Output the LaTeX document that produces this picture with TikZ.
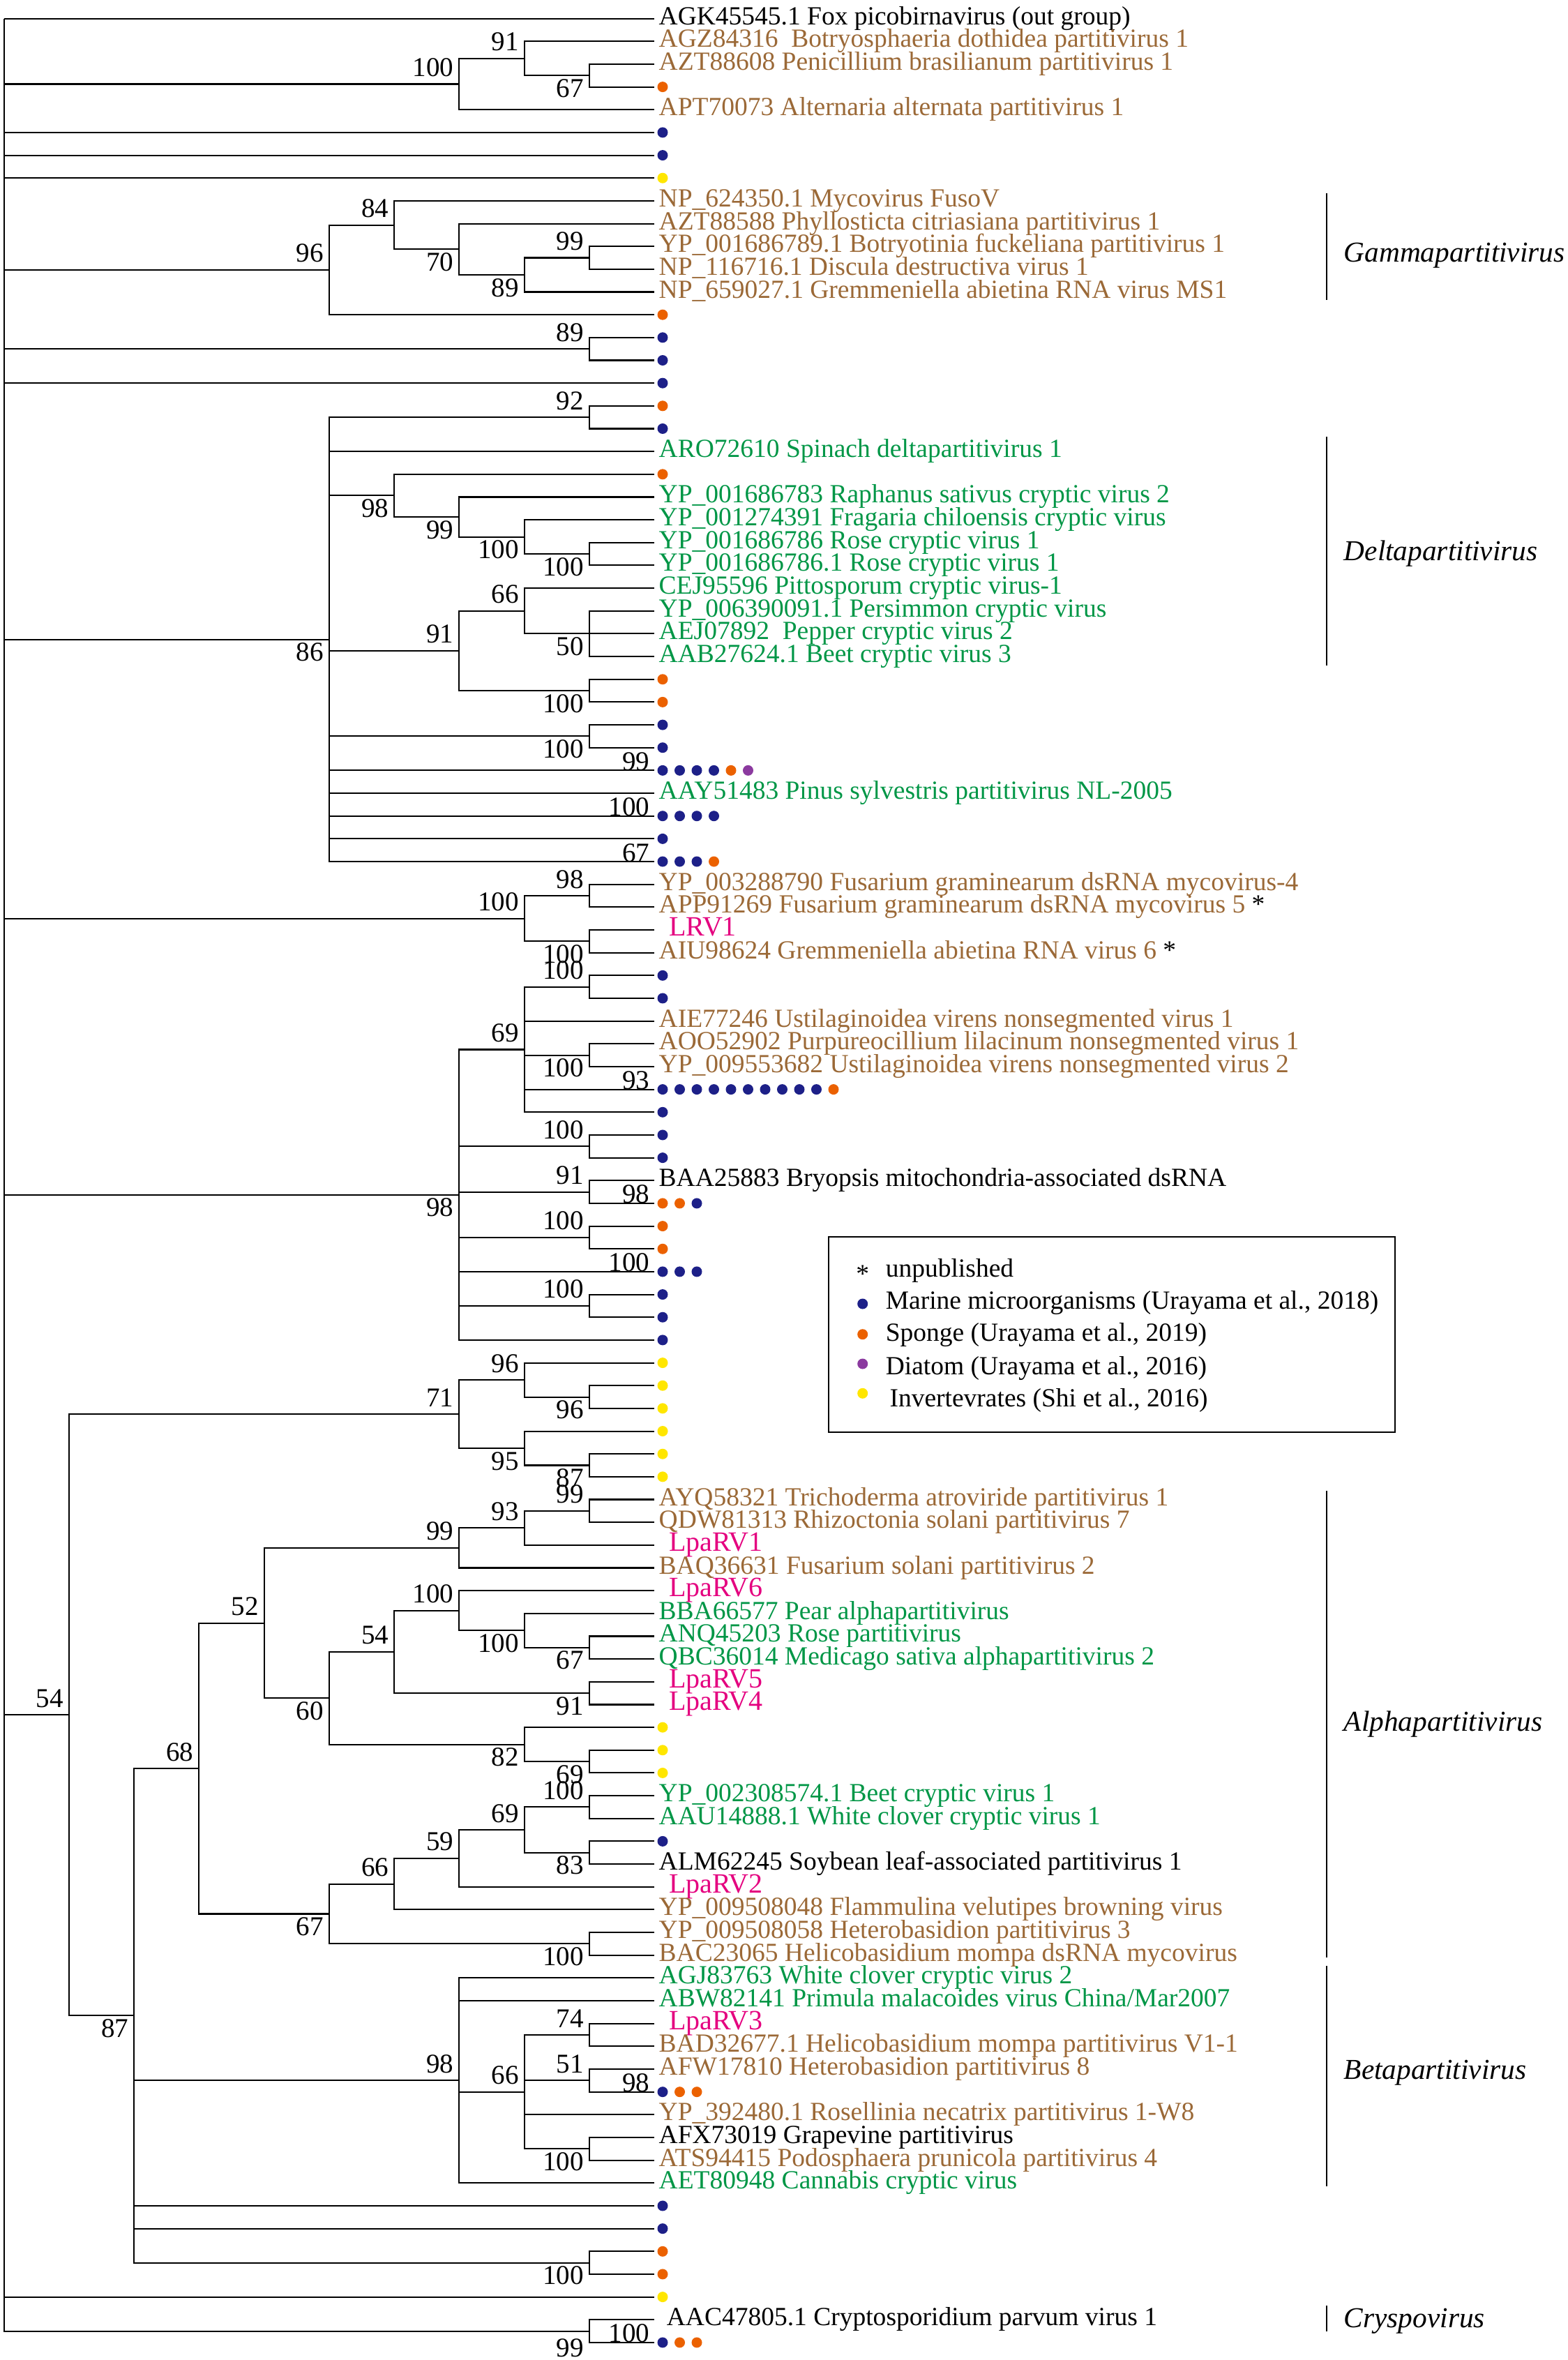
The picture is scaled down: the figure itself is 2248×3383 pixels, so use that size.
\documentclass[tikz,border=0pt]{standalone}
\usepackage{fontspec}
\setmainfont{Liberation Serif}
\definecolor{bnavy}{HTML}{1D2088}
\definecolor{borange}{HTML}{EB6100}
\definecolor{bpurple}{HTML}{8B3A9F}
\definecolor{byellow}{HTML}{FFE600}
\definecolor{tbrown}{HTML}{9B6937}
\definecolor{tgreen}{HTML}{009646}
\definecolor{tmag}{HTML}{E4007F}
\newcommand\dotrow[2]{\foreach \cc [count=\ii from 0] in {#2} {\fill[\cc] ({950+24.5*\ii},#1) circle[radius=1.875pt];}}
\tikzset{
 br/.style={line width=0.52pt},
 lab/.style={anchor=base west, inner sep=0pt, outer sep=0pt, font=\fontsize{9.375pt}{10pt}\selectfont, xshift=1.65pt, yshift=-2.125pt},
 bw/.style={lab, text=black},
 bn/.style={lab, text=tbrown},
 gn/.style={lab, text=tgreen},
 mg/.style={lab, text=tmag, font=\fontsize{10pt}{11pt}\selectfont, xshift=3.6pt},
 bs/.style={inner sep=0pt, outer sep=0pt, font=\fontsize{9.75pt}{10pt}\selectfont, anchor=base east, xshift=-2pt},
 bsa/.style={bs, yshift=2.75pt},
 bsb/.style={bs, yshift=-7.75pt},
 bsc/.style={inner sep=0pt, outer sep=0pt, font=\fontsize{9.75pt}{10pt}\selectfont, anchor=base east},
 clade/.style={anchor=base west, inner sep=0pt, font=\fontsize{10.33pt}{11pt}\selectfont\itshape},
 legtxt/.style={anchor=base west, inner sep=0pt, font=\fontsize{9.375pt}{10pt}\selectfont},
 bar/.style={line width=0.45pt},
 legbox/.style={line width=0.4pt},
}
\begin{document}
\begin{tikzpicture}
% ---------- page frame, legend, clade bars (pixel units) ----------
\begin{scope}[x=0.25pt,y=-0.25pt]
\useasboundingbox (0,0) rectangle (2248,3383);
\draw[legbox] (1188,1773) rectangle (2000,2053);
\node[legtxt, anchor=base] (ls0) at (1236.7,1838) {*};
\fill[bnavy] (1236.7,1869) circle[radius=1.875pt];
\fill[borange] (1236.7,1912.7) circle[radius=1.875pt];
\fill[bpurple] (1236.7,1955) circle[radius=1.875pt];
\fill[byellow] (1236.7,1997.3) circle[radius=1.875pt];
\node[legtxt] (lt0) at (1269,1830.7) {unpublished};
\node[legtxt] (lt1) at (1269,1876.7) {Marine microorganisms (Urayama et al., 2018)};
\node[legtxt] (lt2) at (1269,1922.7) {Sponge (Urayama et al., 2019)};
\node[legtxt] (lt3) at (1269,1970) {Diatom (Urayama et al., 2016)};
\node[legtxt] (lt4) at (1274.7,2016) {Invertevrates (Shi et al., 2016)};
\draw[bar] (1901.7,276.7) -- (1901.7,430);
\draw[bar] (1901.7,626) -- (1901.7,954);
\draw[bar] (1901.7,2137) -- (1901.7,2806);
\draw[bar] (1901.7,2818) -- (1901.7,3134);
\draw[bar] (1901.7,3305) -- (1901.7,3342);
\node[clade] (cg) at (1926,375) {Gammapartitivirus};
\node[clade] (cd) at (1926,803) {Deltapartitivirus};
\node[clade] (ca) at (1926,2481) {Alphapartitivirus};
\node[clade] (cb) at (1926,2980) {Betapartitivirus};
\node[clade] (cc) at (1926,3336) {Cryspovirus};
\end{scope}
% ---------- tree (x in pixels, y in rows) ----------
\begin{scope}[x=0.25pt,y=-8.165pt,yshift=-6.65pt]
\foreach \r in {0,...,102} \coordinate (t\r) at (938.1,\r);
\coordinate (root) at (5.6,0);
\coordinate (A) at (658.35,2.875);
\coordinate (B) at (751.6,1.75);
\coordinate (C) at (844.85,2.5);
\coordinate (D) at (471.85,11.03125);
\coordinate (E) at (565.1,9.0625);
\coordinate (F) at (658.35,10.125);
\coordinate (G) at (751.6,11.25);
\coordinate (H) at (844.85,10.5);
\coordinate (I) at (844.85,14.5);
\coordinate (J) at (471.85,27.25);
\coordinate (K) at (844.85,17.5);
\coordinate (L) at (565.1,20.9375);
\coordinate (M) at (658.35,21.875);
\coordinate (N) at (751.6,22.75);
\coordinate (O) at (844.85,23.5);
\coordinate (P) at (658.35,27.75);
\coordinate (Q) at (751.6,26);
\coordinate (Qa) at (844.85,27);
\coordinate (S) at (844.85,29.5);
\coordinate (T) at (844.85,31.5);
\coordinate (U) at (751.6,39.5);
\coordinate (V) at (844.85,38.5);
\coordinate (W) at (844.85,40.5);
\coordinate (X) at (658.35,51.625);
\coordinate (Y) at (751.6,45.25);
\coordinate (Ya) at (844.85,42.5);
\coordinate (Yb) at (844.85,45.5);
\coordinate (Z1) at (844.85,49.5);
\coordinate (Z2) at (844.85,51.5);
\coordinate (Z3) at (844.85,53.5);
\coordinate (Z4) at (844.85,56.5);
\coordinate (AA) at (98.85,74.451);
\coordinate (AB) at (658.35,61.25);
\coordinate (AC) at (751.6,59.75);
\coordinate (ACa) at (844.85,60.5);
\coordinate (AD) at (751.6,62.75);
\coordinate (ADa) at (844.85,63.5);
\coordinate (AF) at (192.1,87.652);
\coordinate (AG) at (285.35,76.8047);
\coordinate (AH) at (378.6,70.4219);
\coordinate (AI) at (658.35,67.125);
\coordinate (AJ) at (751.6,66.25);
\coordinate (AK) at (844.85,65.5);
\coordinate (AL) at (471.85,73.7188);
\coordinate (AM) at (565.1,71.6875);
\coordinate (AN) at (658.35,69.875);
\coordinate (ANa) at (751.6,70.75);
\coordinate (ANb) at (844.85,71.5);
\coordinate (AO) at (844.85,73.5);
\coordinate (AP) at (751.6,75.75);
\coordinate (APa) at (844.85,76.5);
\coordinate (AQ) at (471.85,83.1875);
\coordinate (AR) at (565.1,81.875);
\coordinate (AS) at (658.35,80.75);
\coordinate (AT) at (751.6,79.5);
\coordinate (ATa) at (844.85,78.5);
\coordinate (ATb) at (844.85,80.5);
\coordinate (AV) at (844.85,84.5);
\coordinate (BA) at (658.35,90.5);
\coordinate (BB) at (751.6,91);
\coordinate (BC) at (844.85,88.5);
\coordinate (BD) at (844.85,90.5);
\coordinate (BE) at (844.85,93.5);
\coordinate (BF) at (844.85,98.5);
\coordinate (CA) at (844.85,101.5);
% branches
\foreach \p/\c in {root/t0, root/A, root/t5, root/t6, root/t7, root/D, root/I, root/t16, root/J, root/U, root/X, root/AA, root/t100, root/CA,
 A/B, A/t4, B/t1, B/C, C/t2, C/t3,
 D/E, D/t13, E/t8, E/F, F/t9, F/G, G/H, G/t12, H/t10, H/t11,
 I/t14, I/t15,
 J/K, J/t19, J/L, J/P, J/T, J/t33, J/t34, J/t35, J/t36, J/t37,
 K/t17, K/t18, L/t20, L/M, M/t21, M/N, N/t22, N/O, O/t23, O/t24,
 P/Q, P/S, Q/t25, Q/Qa, Qa/t26, Qa/t27, Qa/t28, S/t29, S/t30, T/t31, T/t32,
 U/V, U/W, V/t38, V/t39, W/t40, W/t41,
 X/Y, X/Z1, X/Z2, X/Z3, X/t55, X/Z4, X/t58,
 Y/Ya, Y/t44, Y/Yb, Y/t47, Y/t48, Ya/t42, Ya/t43, Yb/t45, Yb/t46,
 Z1/t49, Z1/t50, Z2/t51, Z2/t52, Z3/t53, Z3/t54, Z4/t56, Z4/t57,
 AA/AB, AA/AF, AB/AC, AB/AD, AC/t59, AC/ACa, ACa/t60, ACa/t61, AD/t62, AD/ADa, ADa/t63, ADa/t64,
 AF/AG, AF/BA, AF/t96, AF/t97, AF/BF,
 AG/AH, AG/AQ, AH/AI, AH/AL, AI/AJ, AI/t68, AJ/AK, AJ/t67, AK/t65, AK/t66,
 AL/AM, AL/AP, AM/AN, AM/AO, AN/t69, AN/ANa, ANa/t70, ANa/ANb, ANb/t71, ANb/t72, AO/t73, AO/t74,
 AP/t75, AP/APa, APa/t76, APa/t77,
 AQ/AR, AQ/AV, AR/AS, AR/t83, AS/AT, AS/t82, AT/ATa, AT/ATb, ATa/t78, ATa/t79, ATb/t80, ATb/t81, AV/t84, AV/t85,
 BA/t86, BA/t87, BA/BB, BA/t95, BB/BC, BB/BD, BB/t92, BB/BE, BC/t88, BC/t89, BD/t90, BD/t91, BE/t93, BE/t94,
 BF/t98, BF/t99, CA/t101, CA/t102}
 \draw[br] (\p) |- (\c);
% bootstrap values
\foreach \n/\v in {A/100, B/91, D/96, E/84, H/99, I/89, K/92, P/91, Q/66, U/100, V/98, Y/69, Ya/100, Z1/100, Z2/91, Z3/100, Z4/100,
 AA/54, AB/71, AC/96, AG/68, AH/52, AI/99, AJ/93, AK/99, AM/54, AN/100, AR/66, AS/59, AT/69, ATa/100, BA/98, BB/66, BC/74, BD/51}
 \node[bsa] (b\n) at (\n) {\v};
\foreach \n/\v in {C/67, F/70, G/89, J/86, L/98, M/99, N/100, O/100, Qa/50, S/100, T/100, W/100, X/98, Yb/100,
 ACa/96, AD/95, ADa/87, AF/87, AL/60, ANa/100, ANb/67, AO/91, AP/82, APa/69, AQ/67, ATb/83, AV/100, BE/100, BF/100}
 \node[bsb] (b\n) at (\n) {\v};
\node[bs, yshift=-9.1pt] (bCA) at (CA) {99};
\foreach \r/\v in {33/99, 35/100, 37/67, 47/93, 52/98, 55/100, 91/98, 102/100}
 \node[bsc] (c\r) at (931,\r) {\v};
% dots
\dotrow{3}{borange}
\dotrow{5}{bnavy}
\dotrow{6}{bnavy}
\dotrow{7}{byellow}
\dotrow{13}{borange}
\dotrow{14}{bnavy}
\dotrow{15}{bnavy}
\dotrow{16}{bnavy}
\dotrow{17}{borange}
\dotrow{18}{bnavy}
\dotrow{20}{borange}
\dotrow{29}{borange}
\dotrow{30}{borange}
\dotrow{31}{bnavy}
\dotrow{32}{bnavy}
\dotrow{33}{bnavy,bnavy,bnavy,bnavy,borange,bpurple}
\dotrow{35}{bnavy,bnavy,bnavy,bnavy}
\dotrow{36}{bnavy}
\dotrow{37}{bnavy,bnavy,bnavy,borange}
\dotrow{42}{bnavy}
\dotrow{43}{bnavy}
\dotrow{47}{bnavy,bnavy,bnavy,bnavy,bnavy,bnavy,bnavy,bnavy,bnavy,bnavy,borange}
\dotrow{48}{bnavy}
\dotrow{49}{bnavy}
\dotrow{50}{bnavy}
\dotrow{52}{borange,borange,bnavy}
\dotrow{53}{borange}
\dotrow{54}{borange}
\dotrow{55}{bnavy,bnavy,bnavy}
\dotrow{56}{bnavy}
\dotrow{57}{bnavy}
\dotrow{58}{bnavy}
\foreach \r in {59,...,64} {\dotrow{\r}{byellow}}
\foreach \r in {75,76,77} {\dotrow{\r}{byellow}}
\dotrow{80}{bnavy}
\dotrow{91}{bnavy,borange,borange}
\dotrow{96}{bnavy}
\dotrow{97}{bnavy}
\dotrow{98}{borange}
\dotrow{99}{borange}
\dotrow{100}{byellow}
\dotrow{102}{bnavy,borange,borange}
% leaf labels
\node[bw] (l0) at (t0) {AGK45545.1 Fox picobirnavirus (out group)};
\node[bn] (l1) at (t1) {AGZ84316\ \ Botryosphaeria dothidea partitivirus 1};
\node[bn] (l2) at (t2) {AZT88608 Penicillium brasilianum partitivirus 1};
\node[bn] (l4) at (t4) {APT70073 Alternaria alternata partitivirus 1};
\node[bn] (l8) at (t8) {NP\_624350.1 Mycovirus FusoV};
\node[bn] (l9) at (t9) {AZT88588 Phyllosticta citriasiana partitivirus 1};
\node[bn] (l10) at (t10) {YP\_001686789.1 Botryotinia fuckeliana partitivirus 1};
\node[bn] (l11) at (t11) {NP\_116716.1 Discula destructiva virus 1};
\node[bn] (l12) at (t12) {NP\_659027.1 Gremmeniella abietina RNA virus MS1};
\node[gn] (l19) at (t19) {ARO72610 Spinach deltapartitivirus 1};
\node[gn] (l21) at (t21) {YP\_001686783 Raphanus sativus cryptic virus 2};
\node[gn] (l22) at (t22) {YP\_001274391 Fragaria chiloensis cryptic virus};
\node[gn] (l23) at (t23) {YP\_001686786 Rose cryptic virus 1};
\node[gn] (l24) at (t24) {YP\_001686786.1 Rose cryptic virus 1};
\node[gn] (l25) at (t25) {CEJ95596 Pittosporum cryptic virus-1};
\node[gn] (l26) at (t26) {YP\_006390091.1 Persimmon cryptic virus};
\node[gn] (l27) at (t27) {AEJ07892\ \ Pepper cryptic virus 2};
\node[gn] (l28) at (t28) {AAB27624.1 Beet cryptic virus 3};
\node[gn] (l34) at (t34) {AAY51483 Pinus sylvestris partitivirus NL-2005};
\node[bn] (l38) at (t38) {YP\_003288790 Fusarium graminearum dsRNA mycovirus-4};
\node[bn] (l39) at (t39) {APP91269 Fusarium graminearum dsRNA mycovirus 5 \textcolor{black}{*}};
\node[mg] (l40) at (t40) {LRV1};
\node[bn] (l41) at (t41) {AIU98624 Gremmeniella abietina RNA virus 6 \textcolor{black}{*}};
\node[bn] (l44) at (t44) {AIE77246 Ustilaginoidea virens nonsegmented virus 1};
\node[bn] (l45) at (t45) {AOO52902 Purpureocillium lilacinum nonsegmented virus 1};
\node[bn] (l46) at (t46) {YP\_009553682 Ustilaginoidea virens nonsegmented virus 2};
\node[bw] (l51) at (t51) {BAA25883 Bryopsis mitochondria-associated dsRNA};
\node[bn] (l65) at (t65) {AYQ58321 Trichoderma atroviride partitivirus 1};
\node[bn] (l66) at (t66) {QDW81313 Rhizoctonia solani partitivirus 7};
\node[mg] (l67) at (t67) {LpaRV1};
\node[bn] (l68) at (t68) {BAQ36631 Fusarium solani partitivirus 2};
\node[mg] (l69) at (t69) {LpaRV6};
\node[gn] (l70) at (t70) {BBA66577 Pear alphapartitivirus};
\node[gn] (l71) at (t71) {ANQ45203 Rose partitivirus};
\node[gn] (l72) at (t72) {QBC36014 Medicago sativa alphapartitivirus 2};
\node[mg] (l73) at (t73) {LpaRV5};
\node[mg] (l74) at (t74) {LpaRV4};
\node[gn] (l78) at (t78) {YP\_002308574.1 Beet cryptic virus 1};
\node[gn] (l79) at (t79) {AAU14888.1 White clover cryptic virus 1};
\node[bw] (l81) at (t81) {ALM62245 Soybean leaf-associated partitivirus 1};
\node[mg] (l82) at (t82) {LpaRV2};
\node[bn] (l83) at (t83) {YP\_009508048 Flammulina velutipes browning virus};
\node[bn] (l84) at (t84) {YP\_009508058 Heterobasidion partitivirus 3};
\node[bn] (l85) at (t85) {BAC23065 Helicobasidium mompa dsRNA mycovirus};
\node[gn] (l86) at (t86) {AGJ83763 White clover cryptic virus 2};
\node[gn] (l87) at (t87) {ABW82141 Primula malacoides virus China/Mar2007};
\node[mg] (l88) at (t88) {LpaRV3};
\node[bn] (l89) at (t89) {BAD32677.1 Helicobasidium mompa partitivirus V1-1};
\node[bn] (l90) at (t90) {AFW17810 Heterobasidion partitivirus 8};
\node[bn] (l92) at (t92) {YP\_392480.1 Rosellinia necatrix partitivirus 1-W8};
\node[bw] (l93) at (t93) {AFX73019 Grapevine partitivirus};
\node[bn] (l94) at (t94) {ATS94415 Podosphaera prunicola partitivirus 4};
\node[gn] (l95) at (t95) {AET80948 Cannabis cryptic virus};
\node[bw, xshift=2.8pt] (l101) at (t101) {AAC47805.1 Cryptosporidium parvum virus 1};
\end{scope}
\end{tikzpicture}
\end{document}
